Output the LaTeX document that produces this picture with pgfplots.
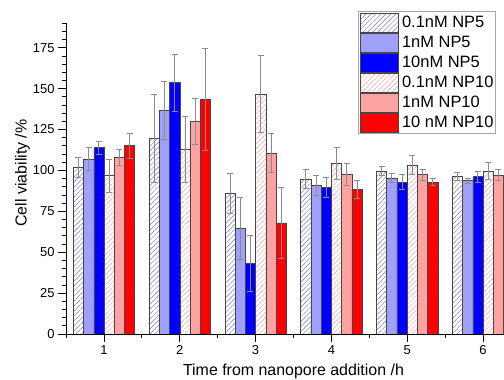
\documentclass[border=0pt]{standalone}
\usepackage{pgfplots}
\pgfplotsset{compat=1.18}
\usepackage{fontspec}
\setmainfont{Liberation Sans}
\usetikzlibrary{patterns.meta}
\definecolor{np5light}{RGB}{158,160,250}
\definecolor{np5dark}{RGB}{0,0,255}
\definecolor{np10light}{RGB}{255,162,162}
\definecolor{np10dark}{RGB}{255,0,0}
\definecolor{hatchblue}{RGB}{120,120,190}
\definecolor{hatchred}{RGB}{238,160,160}
\definecolor{barline}{RGB}{70,70,70}
\definecolor{errgray}{RGB}{140,140,140}
\pgfplotsset{
  legpatch/.style={legend image code/.code={\draw[##1] (0bp,-9.5bp) rectangle (38bp,9.5bp);}},
  errs/.style={error bars/.cd, y dir=both, y explicit,
     error bar style={errgray, line width=0.8bp},
     error mark options={errgray, line width=0.8bp, mark size=3bp, rotate=90}},
}
\begin{document}
\begin{tikzpicture}
\useasboundingbox (-66.1bp,-46bp) rectangle (437.9bp,334bp);
\begin{axis}[
  scale only axis, width=454.8bp, height=310.8bp,
  at={(0,0)}, anchor=south west,
  xmin=0.5, xmax=6.5, ymin=0, ymax=190,
  axis x line*=bottom, axis y line*=left,
  axis line style={line width=0.8bp, black},
  ybar, bar width=0.135,
  xtick={1,2,3,4,5,6},
  minor xtick={0.5,1.5,2.5,3.5,4.5,5.5,6.5},
  ytick={0,25,50,75,100,125,150,175},
  minor ytick={0,5,...,190},
  tick align=outside,
  tick style={black, line width=0.8bp},
  major tick length=8bp, minor tick length=4bp,
  /pgf/number format/assume math mode=true,
  tick label style={font=\fontsize{13}{15}\selectfont},
  xlabel={Time from nanopore addition /h},
  ylabel={Cell viability /\%},
  every axis x label/.style={at={(axis description cs:0.5,-0.1351)}, anchor=base, font=\fontsize{16}{18}\selectfont},
  every axis y label/.style={at={(axis description cs:-0.0866,0.518)}, rotate=90, anchor=base, font=\fontsize{16}{18}\selectfont},
  legend cell align=left,
  legend style={at={(axis description cs:0.6425,1.0393)}, anchor=north west,
     draw=black!35, line width=0.6bp, fill=white,
     font=\fontsize{16.5}{18}\selectfont,
     inner xsep=1bp, inner ysep=1.5bp,
     nodes={inner sep=1bp}, row sep=0.5bp, column sep=3bp},
]
\addplot[legpatch, bar shift=-0.3375, draw=barline, line width=0.5bp,
  pattern={Lines[angle=45,distance=3.5bp,line width=0.45bp]}, pattern color=hatchblue, errs]
  coordinates {(1,101.9) +- (0,6) (2,119.6) +- (0,27) (3,86.0) +- (0,12) (4,94.9) +- (0,6) (5,99.6) +- (0,2.7) (6,96.6) +- (0,2.4)};
\addlegendentry{0.1nM NP5}
\addplot[legpatch, bar shift=-0.2025, draw=barline, line width=0.5bp, fill=np5light, errs]
  coordinates {(1,106.8) +- (0,7) (2,136.7) +- (0,18) (3,64.4) +- (0,19) (4,90.9) +- (0,6) (5,95.4) +- (0,3) (6,93.7) +- (0,1.7)};
\addlegendentry{1nM NP5}
\addplot[legpatch, bar shift=-0.0675, draw=barline, line width=0.5bp, fill=np5dark, errs]
  coordinates {(1,113.9) +- (0,4) (2,153.7) +- (0,17.5) (3,43.0) +- (0,17) (4,89.7) +- (0,6.3) (5,92.9) +- (0,4.5) (6,96.2) +- (0,3.3)};
\addlegendentry{10nM NP5}
\addplot[legpatch, bar shift=0.0675, draw=barline, line width=0.5bp,
  pattern={Lines[angle=45,distance=3.5bp,line width=0.45bp]}, pattern color=hatchred, errs]
  coordinates {(1,96.8) +- (0,10) (2,112.9) +- (0,20) (3,146.7) +- (0,23.4) (4,104.3) +- (0,10) (5,103.3) +- (0,5.7) (6,99.6) +- (0,5.3)};
\addlegendentry{0.1nM NP10}
\addplot[legpatch, bar shift=0.2025, draw=barline, line width=0.5bp, fill=np10light, errs]
  coordinates {(1,107.8) +- (0,5) (2,129.8) +- (0,14) (3,110.8) +- (0,12) (4,97.6) +- (0,6.5) (5,97.4) +- (0,3.5) (6,97.2) +- (0,3.5)};
\addlegendentry{1nM NP10}
\addplot[legpatch, bar shift=0.3375, draw=barline, line width=0.5bp, fill=np10dark, errs]
  coordinates {(1,115.1) +- (0,7.5) (2,143.4) +- (0,31) (3,68.0) +- (0,21.5) (4,88.4) +- (0,5.7) (5,92.9) +- (0,2.3) (6,95.0) +- (0,3)};
\addlegendentry{10 nM NP10}
\end{axis}
\end{tikzpicture}
\end{document}
